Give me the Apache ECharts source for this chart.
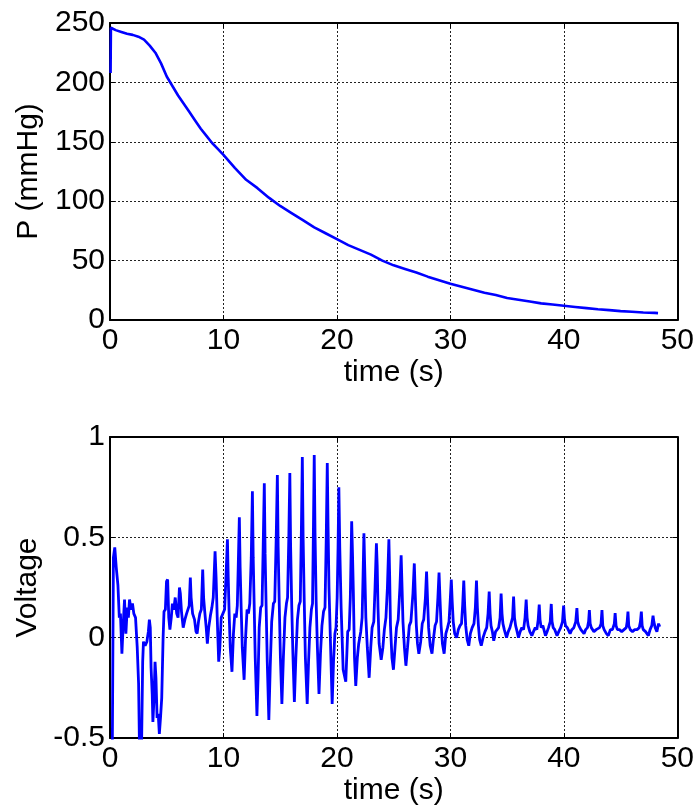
<!DOCTYPE html>
<html>
<head>
<meta charset="utf-8">
<script src="https://cdn.jsdelivr.net/npm/echarts@6/dist/echarts.min.js"></script>
<style>
html,body{margin:0;padding:0;background:#fff;}
#c{width:697px;height:810px;}
</style>
</head>
<body>
<div id="c"></div>
<script>
// ---- Data: pressure (top) ----
var pTime = [0.05,0.08,0.5,1,1.5,2,2.5,3,3.5,4,4.5,5,5.5,6,6.5,7,7.5,8,8.5,9,9.5,10,11,12,13,14,15,16,17,18,19,20,21,22,23,24,25,26,27,28,29,30,31,32,33,34,35,36,37,38,39,40,41,42,43,44,45,46,47,48,48.3];
var pVal  = [208,246,244,242.5,241,240,238.5,236,231,225,216,205,197,189,182,175,168,161,155,149,144,139,128,118,111,103,96,90,84,78,73,68,63,59,55,50,46,43,40,36.5,33.5,30.5,28,25.5,23,21,18.5,17,15.5,14,13,12,11,10,9,8.3,7.5,7,6.3,6,5.8];

// ---- Data: voltage (bottom) ----
var vTime = [0.20,0.30,0.42,0.55,0.70,0.82,0.92,1.05,1.15,1.28,1.40,1.52,1.62,1.72,1.85,1.98,2.10,2.25,2.40,2.52,2.60,2.78,2.88,2.95,3.10,3.25,3.38,3.47,3.55,3.62,3.72,3.78,3.88,3.97,4.05,4.15,4.25,4.35,4.45,4.56,4.68,4.76,4.88,4.98,5.08,5.18,5.28,5.40,5.50,5.62,5.75,5.88,6.00,6.12,6.20,6.30,6.45,6.60,6.75,6.88,6.98,7.08,7.15,7.28,7.45,7.58,7.68,7.80,7.92,8.05,8.17,8.25,8.35,8.48,8.58,8.70,8.85,8.98,9.10,9.26,9.35,9.45,9.58,9.68,9.80,9.95,10.10,10.22,
10.35,10.42,10.50,10.60,10.75,10.88,11.00,11.12,11.22,11.30,
11.40,11.47,11.56,11.66,11.82,11.95,12.08,12.20,12.32,12.45,
12.55,12.62,12.70,12.80,12.95,13.05,13.15,13.28,13.40,13.50,
13.60,13.67,13.76,13.86,14.00,14.12,14.25,14.40,14.52,14.65,
14.75,14.82,14.92,15.02,15.15,15.28,15.42,15.55,15.65,15.76,
15.85,15.92,16.02,16.12,16.25,16.38,16.52,16.65,16.77,16.87,
16.95,17.02,17.12,17.22,17.38,17.50,17.62,17.75,17.85,17.93,
18.00,18.07,18.17,18.28,18.42,18.55,18.68,18.82,18.95,19.06,
19.15,19.22,19.30,19.42,19.58,19.70,19.82,19.92,20.02,20.10,
20.17,20.25,20.37,20.55,20.78,20.95,21.08,21.18,
21.30,21.38,21.45,21.55,21.66,21.80,21.92,22.10,22.22,22.30,
22.38,22.45,22.55,22.68,22.84,22.98,23.10,23.25,23.36,
23.48,23.55,23.62,23.72,23.90,24.05,24.18,24.32,24.45,
24.58,24.65,24.72,24.85,24.98,25.12,25.25,25.40,25.55,
25.66,25.74,25.82,25.95,26.08,26.22,26.38,26.52,26.70,
26.82,26.90,27.00,27.10,27.22,27.38,27.52,27.65,27.80,
27.90,27.98,28.08,28.22,28.38,28.52,28.65,28.78,28.90,
29.00,29.08,29.18,29.30,29.45,29.60,29.75,29.88,29.98,
30.08,30.16,30.25,30.38,30.55,30.70,30.85,30.98,31.08,
31.18,31.26,31.35,31.48,31.62,31.76,31.92,32.08,32.20,
32.30,32.38,32.47,32.58,32.72,32.88,33.05,33.20,33.32,
33.42,33.50,33.58,33.70,33.82,33.98,34.12,34.25,34.38,
34.47,34.55,34.63,34.75,34.95,35.10,35.25,35.38,35.48,
35.57,35.65,35.75,35.88,36.00,36.15,36.30,36.45,36.58,
36.68,36.76,36.85,37.00,37.18,37.32,37.48,37.62,37.74,
37.83,37.90,38.00,38.15,38.38,38.52,38.65,38.80,
38.89,38.96,39.06,39.20,39.40,39.55,39.72,39.88,
39.98,40.06,40.15,40.30,40.55,40.70,40.88,41.05,
41.15,41.22,41.32,41.50,41.78,41.92,42.08,42.18,
42.25,42.32,42.42,42.65,42.85,43.00,43.15,43.28,
43.36,43.43,43.55,43.75,43.92,44.10,44.28,44.45,
44.52,44.60,44.72,44.90,45.10,45.30,45.50,45.58,
45.65,45.72,45.85,46.05,46.25,46.45,46.65,46.75,
46.83,46.90,47.00,47.20,47.45,47.60,47.75,
47.86,47.93,48.05,48.20,48.35,48.45];
var vVal = [-0.60,0.40,0.45,0.35,0.26,0.10,0.12,-0.08,0.05,0.19,0.02,0.15,0.10,0.19,0.14,0.17,0.12,0.10,-0.05,-0.23,-0.55,-0.55,-0.12,-0.02,-0.04,-0.02,0.03,0.09,0.05,-0.15,-0.28,-0.42,-0.30,-0.12,-0.20,-0.40,-0.38,-0.48,-0.40,-0.30,0.00,0.13,0.14,0.28,0.29,0.10,0.04,0.10,0.17,0.14,0.20,0.12,0.10,0.25,0.22,0.13,0.05,0.09,0.12,0.12,0.16,0.30,0.20,0.12,0.09,0.03,0.02,0.08,0.12,0.14,0.34,0.20,0.13,0.05,-0.03,0.05,0.11,0.15,0.20,0.43,0.30,0.10,-0.12,-0.05,0.10,0.12,0.14,0.30,
0.49,0.30,0.12,-0.05,-0.17,0.02,0.12,0.10,0.16,0.35,
0.60,0.35,0.15,-0.05,-0.21,0.00,0.14,0.12,0.17,0.40,
0.73,0.40,0.18,-0.10,-0.39,-0.20,0.05,0.15,0.16,0.45,
0.77,0.42,0.16,-0.12,-0.41,-0.15,0.08,0.17,0.18,0.50,
0.81,0.45,0.16,-0.10,-0.33,-0.10,0.10,0.17,0.20,0.50,
0.82,0.45,0.15,-0.08,-0.32,-0.10,0.09,0.16,0.18,0.55,
0.90,0.50,0.18,-0.10,-0.33,-0.12,0.05,0.14,0.17,0.55,
0.91,0.52,0.18,-0.05,-0.28,-0.08,0.06,0.13,0.15,0.50,
0.87,0.55,0.25,0.00,-0.33,-0.12,0.02,0.05,0.20,0.45,
0.75,0.45,0.15,-0.16,-0.22,0.03,0.04,0.20,
0.58,0.40,0.22,-0.10,-0.24,-0.10,-0.03,0.03,0.10,0.30,
0.52,0.35,0.10,-0.05,-0.20,-0.05,0.05,0.08,0.25,
0.47,0.36,0.15,-0.03,-0.11,-0.05,0.04,0.10,0.25,
0.49,0.30,0.06,-0.10,-0.16,-0.05,0.05,0.09,0.25,
0.41,0.25,0.08,-0.05,-0.14,-0.05,0.06,0.08,0.22,
0.37,0.22,0.06,-0.03,-0.08,-0.02,0.07,0.09,0.20,
0.33,0.20,0.05,-0.04,-0.08,0.00,0.06,0.08,0.20,
0.325,0.20,0.06,-0.03,-0.08,0.02,0.05,0.08,0.18,
0.29,0.18,0.08,0.02,0.00,0.04,0.06,0.07,0.16,
0.285,0.16,0.06,-0.01,-0.04,0.02,0.05,0.07,0.15,
0.285,0.15,0.06,-0.01,-0.04,0.00,0.03,0.05,0.12,
0.23,0.12,0.06,0.03,-0.015,0.03,0.04,0.05,0.10,
0.22,0.12,0.07,0.04,0.00,0.03,0.05,0.05,0.10,
0.205,0.10,0.06,0.03,0.00,0.03,0.05,0.04,0.10,
0.19,0.10,0.06,0.03,0.01,0.03,0.05,0.04,0.09,
0.165,0.09,0.05,0.06,0.01,0.03,0.05,0.08,
0.168,0.08,0.05,0.04,0.01,0.03,0.05,0.08,
0.16,0.09,0.06,0.05,0.02,0.04,0.05,0.08,
0.147,0.08,0.06,0.04,0.02,0.04,0.05,0.08,
0.138,0.07,0.05,0.03,0.04,0.04,0.05,0.07,
0.138,0.06,0.04,0.02,0.01,0.04,0.04,0.07,
0.122,0.06,0.04,0.04,0.03,0.04,0.05,0.08,
0.13,0.06,0.04,0.03,0.04,0.04,0.05,0.08,
0.13,0.06,0.04,0.03,0.01,0.04,0.06,
0.11,0.08,0.05,0.03,0.07,0.055];

// ---- Axis settings ----
var xTicks = {min:0, max:50, interval:10};
var pTicks = {min:0, max:250, interval:50};
var vTicks = {min:-0.5, max:1, interval:0.5};
var xName = 'time (s)';
var pName = 'P (mmHg)';
var vName = 'Voltage';

function pairs(t, v){ var out=[]; for (var i=0;i<t.length;i++) out.push([t[i], v[i]]); return out; }

var FONT = '"Liberation Sans", Arial, Helvetica, sans-serif';
var FS = 30;
var axisLine = {show:true, onZero:false, lineStyle:{color:'#000', width:2}};
var tick = {show:true, inside:true, length:5, lineStyle:{color:'#000', width:1}};
var grid = {show:true, lineStyle:{color:'#222', width:1, type:[2,2]}};
var lab = {color:'#000', fontSize:FS, fontFamily:FONT};

function mainX(gi, t){
  return {type:'value', gridIndex:gi, position:'bottom', min:t.min, max:t.max, interval:t.interval,
    axisLine:axisLine, axisTick:tick, splitLine:grid,
    axisLabel:Object.assign({margin:6}, lab),
    name:xName, nameLocation:'middle', nameGap:38, nameTextStyle:{color:'#000', fontSize:FS, fontFamily:FONT}};
}
function topX(gi, t){
  return {type:'value', gridIndex:gi, position:'top', min:t.min, max:t.max, interval:t.interval,
    axisLine:axisLine, axisTick:tick, splitLine:{show:false}, axisLabel:{show:false}};
}
function mainY(gi, t, name){
  return {type:'value', gridIndex:gi, position:'left', min:t.min, max:t.max, interval:t.interval,
    axisLine:axisLine, axisTick:tick, splitLine:grid,
    axisLabel:Object.assign({margin:5}, lab),
    name:name, nameLocation:'middle', nameRotate:90, nameGap:66, nameTextStyle:{color:'#000', fontSize:FS, fontFamily:FONT}};
}
function rightY(gi, t){
  return {type:'value', gridIndex:gi, position:'right', min:t.min, max:t.max, interval:t.interval,
    axisLine:axisLine, axisTick:tick, splitLine:{show:false}, axisLabel:{show:false}};
}

var chart = echarts.init(document.getElementById('c'), null, {renderer:'canvas'});
chart.setOption({
  animation:false,
  backgroundColor:'#fff',
  grid:[
    {left:110, top:23, width:568, height:297},
    {left:110, top:437, width:568, height:301}
  ],
  xAxis:[mainX(0,xTicks), topX(0,xTicks), mainX(1,xTicks), topX(1,xTicks)],
  yAxis:[mainY(0,pTicks,pName), rightY(0,pTicks), mainY(1,vTicks,vName), rightY(1,vTicks)],
  series:[
    {type:'line', xAxisIndex:0, yAxisIndex:0, data:pairs(pTime,pVal), showSymbol:false, symbol:'none',
     lineStyle:{color:'#0000ff', width:2.6}, clip:true},
    {type:'line', xAxisIndex:2, yAxisIndex:2, data:pairs(vTime,vVal), showSymbol:false, symbol:'none',
     lineStyle:{color:'#0000ff', width:2.8}, clip:true}
  ]
});
</script>
</body>
</html>
